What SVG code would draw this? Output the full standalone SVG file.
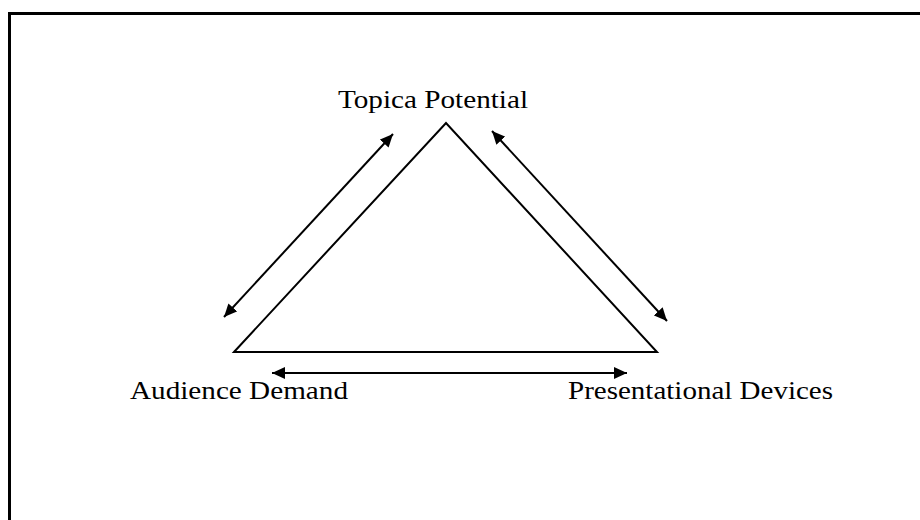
<svg xmlns="http://www.w3.org/2000/svg" width="920" height="520" viewBox="0 0 920 520">
<defs>
<marker id="ah" viewBox="0 0 10 10" refX="10" refY="5" markerWidth="13" markerHeight="12" markerUnits="userSpaceOnUse" orient="auto-start-reverse" preserveAspectRatio="none">
<path d="M0,0 L10,5 L0,10 z" fill="#000"/>
</marker>
<style>
.lbl{font-family:"Liberation Serif","Times New Roman",serif;font-size:25px;fill:#000}
.ln{stroke:#000;stroke-width:2;fill:none}
</style>
</defs>
<rect x="0" y="0" width="920" height="520" fill="#fff"/>
<rect x="9.5" y="13.5" width="1000" height="600" fill="none" stroke="#000" stroke-width="3"/>
<g id="triangle">
<path class="ln" d="M234,352 L446,123 L657,352 Z" stroke-linejoin="miter"/>
</g>
<g id="topica"><text class="lbl" font-family="Liberation Serif, serif" x="338" y="108" textLength="190" lengthAdjust="spacingAndGlyphs">Topica Potential</text></g>
<g id="audience"><text class="lbl" font-family="Liberation Serif, serif" x="130" y="399" textLength="218" lengthAdjust="spacingAndGlyphs">Audience Demand</text></g>
<g id="presentational"><text class="lbl" font-family="Liberation Serif, serif" x="568" y="399" textLength="265" lengthAdjust="spacingAndGlyphs">Presentational Devices</text></g>
<g id="connectors">
<line class="ln" x1="224" y1="317" x2="393" y2="134" marker-start="url(#ah)" marker-end="url(#ah)"/>
<line class="ln" x1="492" y1="131" x2="667" y2="321" marker-start="url(#ah)" marker-end="url(#ah)"/>
<line class="ln" x1="272" y1="373" x2="627" y2="373" marker-start="url(#ah)" marker-end="url(#ah)"/>
</g>
</svg>
